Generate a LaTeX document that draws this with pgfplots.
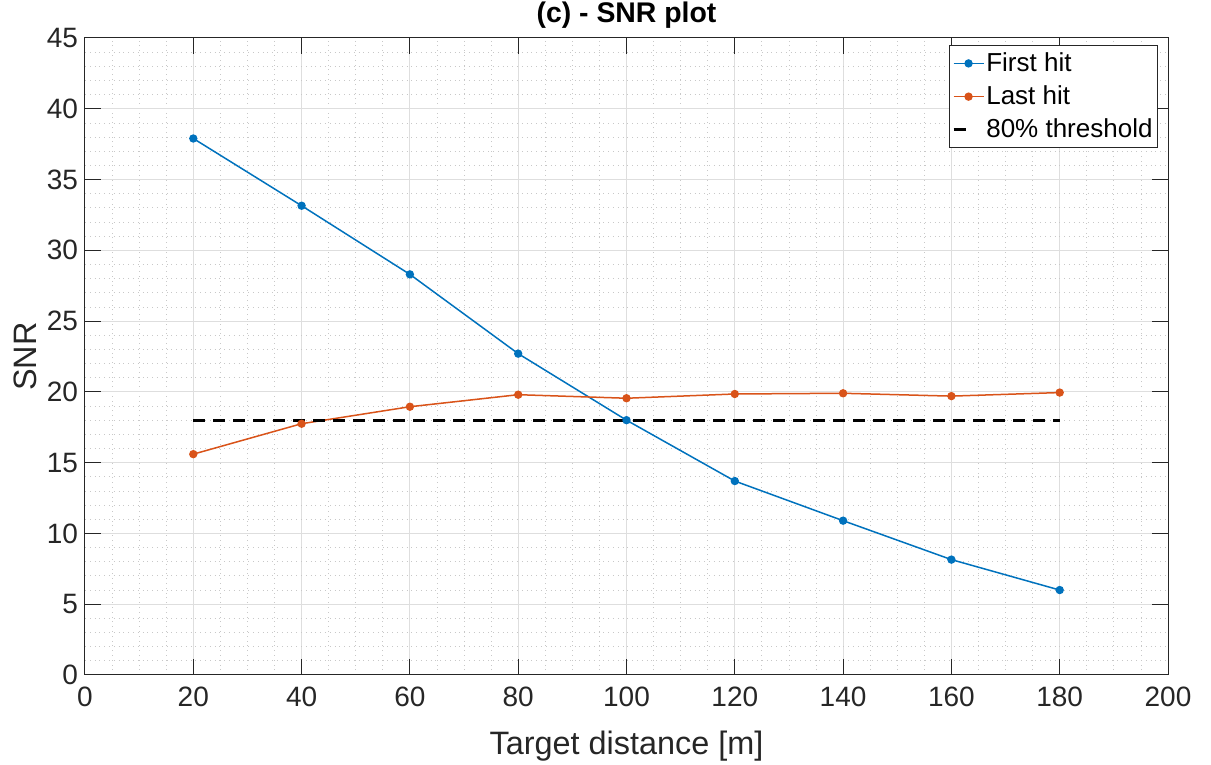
\documentclass[border=0pt]{standalone}
\usepackage{pgfplots}
\pgfplotsset{compat=1.18}
\usepackage{fontspec}
\setmainfont{Liberation Sans}

\definecolor{mblue}{RGB}{0,114,189}
\definecolor{morange}{RGB}{217,83,25}
\definecolor{axgray}{RGB}{38,38,38}
\definecolor{gridmaj}{RGB}{222,222,222}
\definecolor{gridmin}{RGB}{200,200,200}

% shorter legend samples, like MATLAB's
\pgfplotsset{
  lineleg/.style={
    legend image code/.code={
      \draw[mark repeat=2, mark phase=2, ##1]
        plot coordinates {(0pt,0pt) (7.5pt,0pt) (15pt,0pt)};
    }
  },
  threshleg/.style={
    legend image code/.code={\draw[black, line width=1.5pt] (0pt,0pt) -- (6pt,0pt);}
  },
}

\begin{document}
\begin{tikzpicture}
  \begin{axis}[
    scale only axis,
    width=541.5pt,
    height=318.5pt,
    xmin=0, xmax=200,
    ymin=0, ymax=45,
    xtick distance=20,
    ytick distance=5,
    minor x tick num=3,
    minor y tick num=4,
    grid=both,
    major grid style={gridmaj, line width=0.5pt},
    minor grid style={gridmin, dotted, line width=0.4pt},
    axis line style={axgray, line width=0.5pt},
    tick style={axgray, line width=0.5pt},
    major tick length=8pt,
    minor tick length=0pt,
    tick align=inside,
    ticklabel style={font=\fontsize{14}{16}\selectfont, text=axgray},
    xticklabel style={yshift=-2.5pt},
    /pgf/number format/assume math mode=true,
    xlabel={Target distance [m]},
    ylabel={SNR},
    label style={font=\fontsize{16.2}{18}\selectfont, text=axgray},
    xlabel style={yshift=-5pt},
    ylabel style={yshift=-2pt},
    title={\textbf{(c) - SNR plot}},
    title style={font=\fontsize{14.2}{16}\selectfont, yshift=-4.5pt},
    legend style={
      at={(0.9908,0.989)}, anchor=north east,
      draw=axgray, line width=0.5pt,
      font=\fontsize{13}{15}\selectfont,
      row sep=1.7pt, inner sep=1.5pt,
      nodes={inner xsep=1pt},
      cells={anchor=west},
    },
    legend cell align=left,
  ]

    \addplot[mblue, line width=0.75pt, mark=*, mark size=1.7pt, lineleg]
      coordinates {
        (20,37.9) (40,33.15) (60,28.3) (80,22.7) (100,18.0)
        (120,13.7) (140,10.9) (160,8.15) (180,6.0)
      };
    \addlegendentry{First hit}

    \addplot[morange, line width=0.75pt, mark=*, mark size=1.7pt, lineleg]
      coordinates {
        (20,15.6) (40,17.75) (60,18.95) (80,19.8) (100,19.55)
        (120,19.85) (140,19.9) (160,19.7) (180,19.95)
      };
    \addlegendentry{Last hit}

    \addplot[black, line width=1.5pt, dash pattern=on 6pt off 4pt, threshleg]
      coordinates {(20,18) (180,18)};
    \addlegendentry{80\% threshold}

    \coordinate (sw) at (rel axis cs:0,0);
    \coordinate (ne) at (rel axis cs:1,1);
  \end{axis}
  \pgfresetboundingbox
  \path ([shift={(-42.5pt,-45pt)}]sw) rectangle ([shift={(21.5pt,19pt)}]ne);
\end{tikzpicture}
\end{document}
